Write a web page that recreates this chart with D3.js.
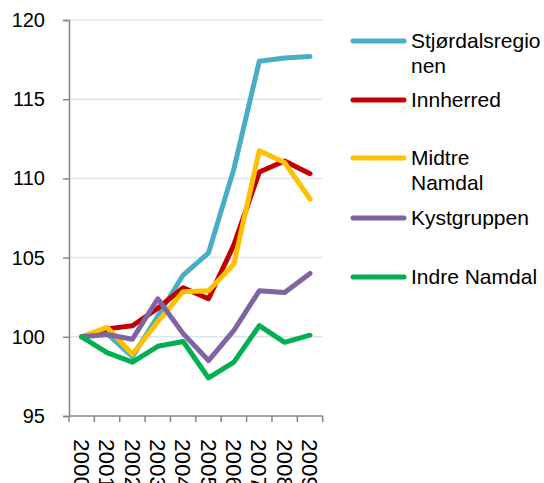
<!DOCTYPE html>
<html>
<head>
<style>
body { margin: 0; background: #fff; }
text { font-family: "Liberation Sans", Arial, sans-serif; fill: #000; }
</style>
</head>
<body>
<svg id="chart"></svg>
<script src="https://cdnjs.cloudflare.com/ajax/libs/d3/7.8.5/d3.min.js"></script>
<script>
var years = ['2000', '2001', '2002', '2003', '2004', '2005', '2006', '2007', '2008', '2009'];
var yTicks = [95, 100, 105, 110, 115, 120];

var stjordal = [100, 100.2, 98.75, 101.3, 103.9, 105.3, 110.6, 117.4, 117.6, 117.7];
var innherred = [100, 100.5, 100.7, 101.8, 103.1, 102.4, 105.8, 110.4, 111.1, 110.3];
var midtre = [100, 100.6, 98.9, 100.95, 102.85, 102.9, 104.6, 111.75, 111.0, 108.7];
var kyst = [100, 100.15, 99.85, 102.4, 100.2, 98.5, 100.4, 102.9, 102.8, 104.0];
var indre = [100, 99.0, 98.4, 99.4, 99.7, 97.4, 98.4, 100.7, 99.65, 100.1];

var series = [
  { name: ['Stjørdalsregio', 'nen'], values: stjordal, color: '#4BACC6', ly: 41 },
  { name: ['Innherred'], values: innherred, color: '#C00000', ly: 100 },
  { name: ['Midtre', 'Namdal'], values: midtre, color: '#FFC000', ly: 158 },
  { name: ['Kystgruppen'], values: kyst, color: '#8064A2', ly: 218 },
  { name: ['Indre Namdal'], values: indre, color: '#00B050', ly: 277 }
];

var width = 544, height = 483;
var plotLeft = 69, plotRight = 322.7, plotTop = 20, plotBottom = 416;

var svg = d3.select('#chart').attr('width', width).attr('height', height);

var x = d3.scaleBand().domain(years).range([plotLeft, plotRight]);
var y = d3.scaleLinear().domain([95, 120]).range([plotBottom, plotTop]);

// gridlines
svg.append('g').selectAll('line')
  .data(yTicks.filter(function(d) { return d > 95; }))
  .enter().append('line')
  .attr('x1', plotLeft).attr('x2', plotRight)
  .attr('y1', function(d) { return y(d); })
  .attr('y2', function(d) { return y(d); })
  .attr('stroke', '#dce6f2')
  .attr('stroke-width', 1.5);

// y axis
var yAxis = svg.append('g')
  .attr('transform', 'translate(' + plotLeft + ',0)')
  .call(d3.axisLeft(y).tickValues(yTicks).tickSize(6).tickPadding(18));
yAxis.select('.domain').attr('stroke', '#868686').attr('stroke-width', 1.5);
yAxis.selectAll('.tick line').attr('stroke', '#868686').attr('stroke-width', 1.5);
yAxis.selectAll('.tick text').attr('font-size', 20).attr('font-family', '"Liberation Sans", Arial, sans-serif');

// x axis
var xAxis = svg.append('g').attr('transform', 'translate(0,' + plotBottom + ')');
xAxis.append('line')
  .attr('x1', plotLeft).attr('x2', plotRight)
  .attr('stroke', '#868686').attr('stroke-width', 1.5);
xAxis.selectAll('.xt')
  .data(years.concat(['end']))
  .enter().append('line')
  .attr('x1', function(d, i) { return i < years.length ? x(d) : plotRight; })
  .attr('x2', function(d, i) { return i < years.length ? x(d) : plotRight; })
  .attr('y1', 0).attr('y2', 6)
  .attr('stroke', '#868686').attr('stroke-width', 1.5);
xAxis.selectAll('text')
  .data(years)
  .enter().append('text')
  .attr('transform', function(d) {
    return 'translate(' + (x(d) + x.bandwidth() / 2) + ',23) rotate(90)';
  })
  .attr('dy', '0.35em')
  .attr('font-size', 22.5)
  .text(function(d) { return d; });

// lines
var line = d3.line()
  .x(function(d, i) { return x(years[i]) + x.bandwidth() / 2; })
  .y(function(d) { return y(d); });

svg.append('g').selectAll('path')
  .data(series)
  .enter().append('path')
  .attr('d', function(s) { return line(s.values); })
  .attr('fill', 'none')
  .attr('stroke', function(s) { return s.color; })
  .attr('stroke-width', 5)
  .attr('stroke-linejoin', 'round')
  .attr('stroke-linecap', 'round');

// legend
var legend = svg.append('g').selectAll('g')
  .data(series)
  .enter().append('g')
  .attr('transform', function(s) { return 'translate(0,' + s.ly + ')'; });
legend.append('line')
  .attr('x1', 353).attr('x2', 404)
  .attr('stroke', function(s) { return s.color; })
  .attr('stroke-width', 5)
  .attr('stroke-linecap', 'round');
legend.each(function(s) {
  var t = d3.select(this).append('text').attr('font-size', 21);
  s.name.forEach(function(n, i) {
    t.append('tspan').attr('x', 411).attr('dy', i === 0 ? '0.35em' : '1.15em').text(n);
  });
});
</script>
</body>
</html>
